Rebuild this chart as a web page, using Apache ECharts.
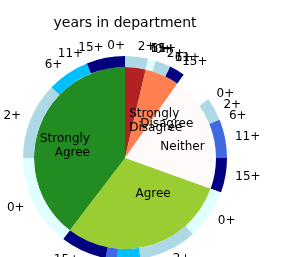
<!DOCTYPE html>
<html>
<head>
<meta charset="utf-8">
<script src="https://cdn.jsdelivr.net/npm/echarts@6/dist/echarts.min.js"></script>
<style>
    html, body { margin: 0; padding: 0; background: #fff; }
    #main { width: 287px; height: 257px; }
</style>
</head>
<body>
<div id="main"></div>
<script>
/*==数据==*/
var answers = ['Strongly\nDisagree', 'Disagree', 'Neither', 'Agree', 'Strongly\nAgree'];
var answerCounts = [6, 10, 34, 49, 65];
var yearGroups = ['0+', '2+', '6+', '11+', '15+'];
var yearsStronglyDisagree = [0, 6, 0, 0, 0];
var yearsDisagree = [2, 4, 0, 0, 4];
var neitherMissing = 9; // 外环空白部分
var yearsNeither = [0, 6, 0, 10, 9];
var yearsAgree = [13, 15, 6, 3, 12];
var yearsStronglyAgree = [24, 20, 11, 0, 10];

var answerColors = ['#b22222', '#ff7f50', '#fffafa', '#9acd32', '#228b22'];
var yearColors = ['#e0ffff', '#add8e6', '#00bfff', '#4169e1', '#000080'];
var font = 'DejaVu Sans';

/*==内圈==*/
var innerData = [];
for (var i = 0; i < answers.length; i++) {
    innerData.push({
        name: answers[i],
        value: answerCounts[i],
        itemStyle: { color: answerColors[i] }
    });
}

/*==外圈==*/
var outerData = [];
function addYears(list) {
    for (var j = 0; j < list.length; j++) {
        outerData.push({
            name: yearGroups[j],
            value: list[j],
            itemStyle: { color: yearColors[j] }
        });
    }
}
addYears(yearsStronglyDisagree);
addYears(yearsDisagree);
outerData.push({
    name: '',
    value: neitherMissing,
    itemStyle: { color: 'rgba(0,0,0,0)' },
    label: { show: false }
});
addYears(yearsNeither);
addYears(yearsAgree);
addYears(yearsStronglyAgree);

var option = {
    animation: false,
    title: {
        text: 'years in department',
        left: 120,
        top: 11,
        textAlign: 'center',
        textStyle: { fontFamily: font, fontSize: 14, fontWeight: 'normal', color: '#000' }
    },
    series: [
        {
            name: 'answer',
            type: 'pie',
            center: [125, 158],
            radius: [0, 91],
            startAngle: 90,
            clockwise: true,
            avoidLabelOverlap: false,
            minShowLabelAngle: 0,
            silent: true,
            labelLayout: { hideOverlap: false },
            label: {
                position: 'outside',
                fontFamily: font,
                fontSize: 12,
                lineHeight: 14,
                color: '#000',
                distanceToLabelLine: 0
            },
            labelLine: { show: false, length: -54, length2: 0 },
            data: innerData
        },
        {
            name: 'years',
            type: 'pie',
            center: [125, 158],
            radius: [91, 102],
            startAngle: 90,
            clockwise: true,
            avoidLabelOverlap: false,
            minShowLabelAngle: 0,
            silent: true,
            labelLayout: { hideOverlap: false },
            label: {
                position: 'outside',
                fontFamily: font,
                fontSize: 12,
                color: '#000',
                distanceToLabelLine: 0
            },
            labelLine: { show: false, length: 10, length2: 0 },
            data: outerData
        }
    ]
};

var myChart = echarts.init(document.getElementById('main'));
myChart.setOption(option);
</script>
</body>
</html>
